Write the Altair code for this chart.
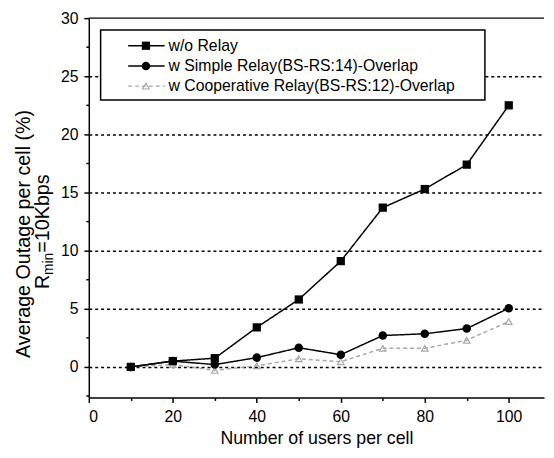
import altair as alt
import pandas as pd

users = [10, 20, 30, 40, 50, 60, 70, 80, 90, 100]
wo_relay = [0.0, 0.5, 0.75, 3.4, 5.8, 9.1, 13.7, 15.3, 17.4, 22.5]
simple_relay = [0.0, 0.5, 0.2, 0.8, 1.65, 1.05, 2.7, 2.85, 3.3, 5.05]
coop_relay = [0.0, 0.2, -0.3, 0.1, 0.7, 0.45, 1.6, 1.6, 2.3, 3.9]

series_names = [
    "w/o Relay",
    "w Simple Relay(BS-RS:14)-Overlap",
    "w Cooperative Relay(BS-RS:12)-Overlap",
]
x_ticks = list(range(0, 101, 10))
y_ticks = [v * 2.5 for v in range(-1, 13)]

FONT = "Liberation Sans"
W, H = 462, 385
XDOM = [0, 108.4]
YDOM = [-2.63, 30]

df = pd.DataFrame({
    "users": users * 3,
    "outage": wo_relay + simple_relay + coop_relay,
    "series": [series_names[0]] * 10 + [series_names[1]] * 10 + [series_names[2]] * 10,
})
one = pd.DataFrame({"k": [0]})

xscale = alt.Scale(domain=XDOM, nice=False, zero=False)
yscale = alt.Scale(domain=YDOM, nice=False, zero=False)

xaxis = alt.Axis(
    values=x_ticks,
    labelExpr="datum.value % 20 === 0 ? datum.label : ''",
    tickSize={"condition": {"test": "datum.value % 20 === 0", "value": 5}, "value": 3},
    grid=False,
    domainColor="black", domainWidth=1.5,
    tickColor="black", tickWidth=1.5,
    labelFont=FONT, labelFontSize=16, labelColor="black", labelPadding=6,
    title="Number of users per cell",
    titleFont=FONT, titleFontSize=18, titleFontWeight="normal", titleColor="black",
    titlePadding=6,
)
yaxis = alt.Axis(
    values=y_ticks,
    labelExpr="(datum.value % 5 === 0 && datum.value >= 0) ? datum.label : ''",
    tickSize={"condition": {"test": "datum.value % 5 === 0", "value": 5}, "value": 3},
    grid=True,
    gridColor="black", gridDash=[3, 3], gridWidth=1.5,
    gridOpacity={"condition": {"test": "datum.value % 5 === 0 && datum.value >= 0 && datum.value < 30", "value": 1}, "value": 0},
    domainColor="black", domainWidth=1.5,
    tickColor="black", tickWidth=1.5,
    labelFont=FONT, labelFontSize=16, labelColor="black", labelPadding=6,
    title=None,
)

styles = {
    series_names[0]: dict(color="black", dash=[1, 0], shape="square", filled=True, size=70),
    series_names[1]: dict(color="black", dash=[1, 0], shape="circle", filled=True, size=75),
    series_names[2]: dict(color="#a8a8a8", dash=[4, 3], shape="triangle-up", filled=False, size=45),
}

layers = []
for name in [series_names[2], series_names[1], series_names[0]]:
    st = styles[name]
    sub = df[df["series"] == name]
    base = alt.Chart(sub).encode(
        x=alt.X("users:Q", scale=xscale, axis=xaxis),
        y=alt.Y("outage:Q", scale=yscale, axis=yaxis),
    )
    layers.append(base.mark_line(color=st["color"], strokeWidth=1.5, strokeDash=st["dash"]))
    layers.append(base.mark_point(shape=st["shape"], filled=st["filled"], color=st["color"],
                                  size=st["size"], opacity=1, strokeWidth=1.2))

# top frame line
layers.append(alt.Chart(one).mark_rule(color="black", strokeWidth=1.5).encode(
    x=alt.value(0), x2=alt.value(W), y=alt.value(0)))

# legend box
leg_left, leg_right, leg_top, leg_bottom = 12, 402, 12, 83
layers.append(alt.Chart(one).mark_rect(fill="white", stroke="black", strokeWidth=1.5).encode(
    x=alt.value(leg_left), x2=alt.value(leg_right), y=alt.value(leg_top), y2=alt.value(leg_bottom)))
row_y = [28, 48.5, 69]
for i, name in enumerate(series_names):
    st = styles[name]
    layers.append(alt.Chart(one).mark_rule(color=st["color"], strokeWidth=1.5, strokeDash=st["dash"]).encode(
        x=alt.value(40), x2=alt.value(77), y=alt.value(row_y[i])))
    layers.append(alt.Chart(one).mark_point(shape=st["shape"], filled=st["filled"], color=st["color"],
                                            size=st["size"], opacity=1, strokeWidth=1.2).encode(
        x=alt.value(58), y=alt.value(row_y[i])))
    layers.append(alt.Chart(one).mark_text(text=name, font=FONT, fontSize=16, color="black",
                                           align="left", baseline="middle").encode(
        x=alt.value(81), y=alt.value(row_y[i])))

# y axis title (two lines, rotated), with subscript
layers.append(alt.Chart(one).mark_text(text="Average Outage per cell (%)", font=FONT, fontSize=20,
                                       color="black", angle=270, align="center", baseline="alphabetic").encode(
    x=alt.value(-60), y=alt.value(219)))
layers.append(alt.Chart(one).mark_text(text="R", font=FONT, fontSize=20, color="black",
                                       angle=270, align="left", baseline="alphabetic").encode(
    x=alt.value(-40.5), y=alt.value(275)))
layers.append(alt.Chart(one).mark_text(text="min", font=FONT, fontSize=14, color="black",
                                       angle=270, align="left", baseline="alphabetic").encode(
    x=alt.value(-36.5), y=alt.value(260.6)))
layers.append(alt.Chart(one).mark_text(text="=10Kbps", font=FONT, fontSize=20, color="black",
                                       angle=270, align="left", baseline="alphabetic").encode(
    x=alt.value(-40.5), y=alt.value(238)))

chart = alt.layer(*layers).properties(
    width=W, height=H,
    padding={"left": 82, "top": 7, "right": 2, "bottom": 50},
    autosize=alt.AutoSizeParams(type="none"),
    background="white",
).configure_view(stroke=None)

chart.save("out.html", embed_options={"renderer": "svg", "actions": False})
